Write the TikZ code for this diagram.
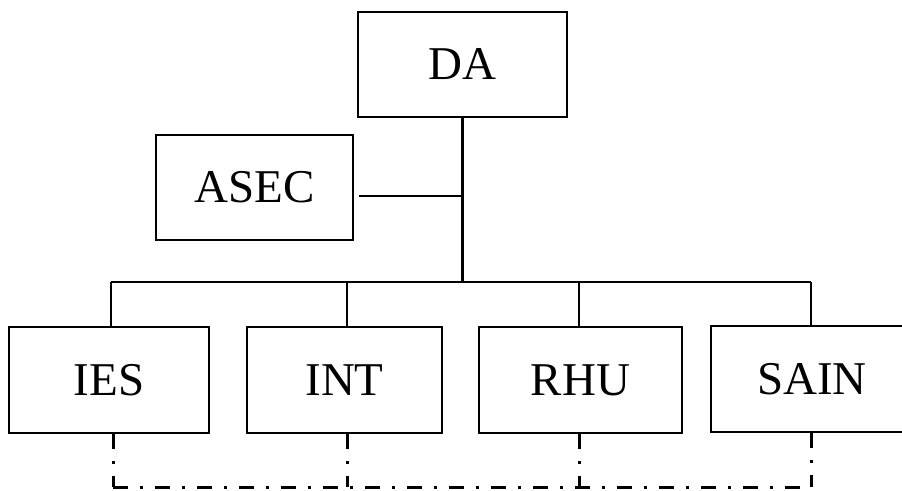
\documentclass[tikz,border=0pt]{standalone}
\usepackage{fontspec}
\setmainfont{Liberation Serif}
\begin{document}
\begin{tikzpicture}[x=1pt,y=1pt,
  box/.style={draw,line width=2.8pt,inner sep=0pt,font=\fontsize{47}{50}\selectfont},
  conn/.style={line width=2.6pt},
  dd/.style={line width=3pt,dash pattern=on 15pt off 12pt on 3pt off 12pt}]
\useasboundingbox (0,0) rectangle (902,490);
\clip (0,0) rectangle (902,490);
\node[box,minimum width=209pt,minimum height=105pt] (DA) at (462.5,425.5) {DA};
\node[box,minimum width=197pt,minimum height=105pt] (ASEC) at (254.5,302.5) {ASEC};
\node[box,minimum width=200pt,minimum height=106pt] (IES) at (109,110) {IES};
\node[box,minimum width=195pt,minimum height=106pt] (INT) at (344.5,110) {INT};
\node[box,minimum width=203pt,minimum height=106pt] (RHU) at (580.5,110) {RHU};
\node[box,minimum width=202pt,minimum height=106pt] (SAIN) at (812,111) {SAIN};
\coordinate (d1) at (111,208);
\coordinate (d2) at (347,208);
\coordinate (d3) at (579,208);
\coordinate (d4) at (811,208);
\coordinate (t) at (462,294);
\coordinate (e1) at (113,3);
\coordinate (e2) at (347,3);
\coordinate (e3) at (579,3);
\coordinate (e4) at (811,3);
% solid connectors
\draw[conn] (DA.south) -- (DA.south |- d1);
\draw[conn] ([xshift=5pt]ASEC.east |- t) -- (DA.south |- t);
\draw[conn] (d1) -- (d4);
\draw[conn] (d1) -- (d1 |- IES.north);
\draw[conn] (d2) -- (d2 |- INT.north);
\draw[conn] (d3) -- (d3 |- RHU.north);
\draw[conn] (d4) -- (d4 |- SAIN.north);
% dash-dot connectors
\draw[dd] (e1 |- IES.south) -- (e1);
\draw[dd] (e2 |- INT.south) -- (e2);
\draw[dd] (e3 |- RHU.south) -- (e3);
\draw[dd] (e4 |- SAIN.south) -- (e4);
\draw[dd] (e1) -- (e4);
\end{tikzpicture}
\end{document}
